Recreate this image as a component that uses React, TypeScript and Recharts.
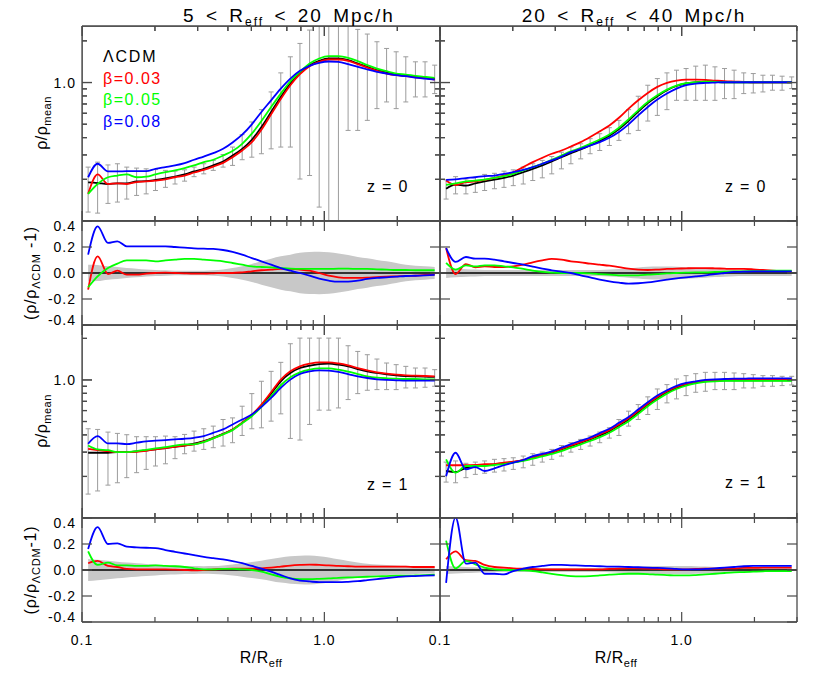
import React from 'react';
import { ComposedChart, Line, Area, XAxis, YAxis, ErrorBar, ReferenceLine } from 'recharts';

// ---------- data ----------
const RADII = [0.106,0.116,0.128,0.140,0.153,0.168,0.184,0.201,0.221,0.242,0.265,0.290,0.318,0.348,0.382,0.418,0.458,0.502,0.550,0.603,0.661,0.724,0.793,0.869,0.952,1.043,1.143,1.253,1.373,1.504,1.648,1.806,1.978,2.168,2.375,2.603,2.852];

const X_TICKS = [0.1,0.2,0.3,0.4,0.5,0.6,0.7,0.8,0.9,1,2,3];
const DENS_TICKS = [0.2,0.3,0.4,0.5,0.6,0.7,0.8,0.9,1,2];
const RATIO_TICKS = [-0.4,-0.2,0,0.2,0.4];

// 5 < Reff < 20, z = 0
const S0_LCDM = [0.190,0.188,0.185,0.187,0.187,0.193,0.194,0.198,0.203,0.209,0.217,0.228,0.238,0.252,0.269,0.297,0.332,0.386,0.477,0.613,0.787,0.983,1.174,1.335,1.435,1.492,1.492,1.451,1.372,1.298,1.228,1.181,1.142,1.123,1.098,1.080,1.062];
const S0_B003 = [0.157,0.217,0.185,0.187,0.185,0.191,0.193,0.196,0.200,0.207,0.213,0.224,0.234,0.247,0.263,0.289,0.323,0.371,0.456,0.589,0.761,0.956,1.149,1.313,1.411,1.467,1.467,1.435,1.357,1.283,1.214,1.161,1.129,1.111,1.092,1.075,1.051];
const S0_B005 = [0.157,0.185,0.207,0.213,0.217,0.207,0.209,0.217,0.225,0.232,0.241,0.252,0.266,0.277,0.297,0.320,0.361,0.427,0.527,0.666,0.832,1.022,1.194,1.372,1.492,1.551,1.551,1.509,1.427,1.335,1.262,1.207,1.161,1.142,1.117,1.098,1.080];
const S0_B008 = [0.207,0.259,0.228,0.228,0.229,0.229,0.229,0.238,0.245,0.252,0.262,0.277,0.292,0.309,0.332,0.369,0.420,0.499,0.613,0.744,0.904,1.068,1.214,1.320,1.388,1.419,1.411,1.357,1.298,1.242,1.194,1.161,1.129,1.111,1.086,1.068,1.051];
const S0_ERR_HI = [0.245,0.266,0.254,0.259,0.245,0.241,0.238,0.235,0.232,0.229,0.234,0.245,0.259,0.274,0.302,0.342,0.420,0.519,0.637,0.855,1.174,1.534,1.916,2.393,4.0,4.0,4.0,2.751,2.420,2.239,1.970,1.762,1.667,1.534,1.411,1.411,1.335];
const S0_ERR_LO = [0.116,0.114,0.134,0.137,0.144,0.153,0.157,0.166,0.175,0.185,0.194,0.209,0.219,0.232,0.245,0.252,0.277,0.289,0.306,0.332,0.342,0.342,0.201,0.213,0.126,0.05,0.05,0.451,0.451,0.533,0.648,0.724,0.648,0.724,0.787,0.787,0.832];

// 20 < Reff < 40, z = 0
const L0_LCDM = [0.171,0.183,0.180,0.187,0.193,0.199,0.205,0.213,0.225,0.238,0.252,0.269,0.289,0.309,0.329,0.352,0.378,0.412,0.461,0.530,0.616,0.710,0.797,0.880,0.944,0.984,1.003,1.014,1.010,1.005,1.005,1.005,1.005,1.005,1.005,1.005,1.005];
const L0_B003 = [0.196,0.182,0.191,0.193,0.198,0.205,0.213,0.225,0.245,0.266,0.286,0.306,0.323,0.345,0.371,0.404,0.444,0.490,0.557,0.648,0.744,0.841,0.930,0.994,1.033,1.051,1.051,1.045,1.033,1.022,1.016,1.011,1.005,1.005,1.005,1.005,1.005];
const L0_B005 = [0.182,0.187,0.193,0.196,0.199,0.205,0.211,0.219,0.232,0.245,0.259,0.277,0.297,0.318,0.338,0.361,0.388,0.422,0.472,0.542,0.630,0.724,0.809,0.889,0.951,0.988,1.005,1.016,1.011,1.005,1.005,1.005,1.005,1.005,1.005,1.005,1.005];
const L0_B008 = [0.198,0.200,0.204,0.207,0.211,0.213,0.219,0.225,0.234,0.245,0.259,0.274,0.292,0.314,0.332,0.351,0.371,0.399,0.439,0.499,0.579,0.666,0.753,0.832,0.904,0.956,0.983,0.994,1.000,1.005,1.005,1.005,1.005,1.005,1.005,1.005,1.005];
const L0_ERR_HI = [0.198,0.209,0.201,0.207,0.217,0.221,0.229,0.234,0.245,0.259,0.274,0.292,0.314,0.342,0.361,0.393,0.427,0.472,0.533,0.637,0.796,0.956,1.068,1.174,1.228,1.262,1.313,1.335,1.298,1.262,1.228,1.174,1.161,1.129,1.129,1.111,1.098];
const L0_ERR_LO = [0.144,0.157,0.157,0.161,0.166,0.171,0.175,0.180,0.185,0.196,0.205,0.219,0.238,0.259,0.281,0.306,0.323,0.351,0.382,0.427,0.451,0.527,0.579,0.637,0.744,0.744,0.744,0.744,0.744,0.765,0.765,0.832,0.841,0.855,0.880,0.880,0.904];

// 5 < Reff < 20, z = 1
const S1_LCDM = [0.297,0.297,0.297,0.300,0.300,0.304,0.309,0.314,0.321,0.328,0.335,0.345,0.361,0.381,0.407,0.438,0.489,0.556,0.652,0.796,0.978,1.123,1.220,1.268,1.304,1.311,1.290,1.254,1.200,1.154,1.123,1.098,1.080,1.068,1.062,1.056,1.051];
const S1_B003 = [0.317,0.310,0.305,0.300,0.300,0.302,0.307,0.314,0.321,0.328,0.335,0.341,0.357,0.379,0.405,0.438,0.489,0.559,0.663,0.814,1.005,1.154,1.254,1.311,1.341,1.341,1.318,1.276,1.220,1.174,1.135,1.110,1.092,1.080,1.074,1.068,1.062];
const S1_B005 = [0.335,0.314,0.310,0.300,0.300,0.305,0.312,0.319,0.326,0.334,0.341,0.341,0.355,0.377,0.403,0.433,0.486,0.546,0.638,0.762,0.915,1.045,1.135,1.187,1.213,1.213,1.187,1.148,1.104,1.062,1.039,1.028,1.022,1.016,1.016,1.011,1.011];
const S1_B008 = [0.345,0.392,0.347,0.347,0.343,0.351,0.359,0.363,0.367,0.371,0.375,0.381,0.392,0.414,0.438,0.476,0.517,0.562,0.638,0.741,0.875,1.005,1.104,1.154,1.174,1.167,1.142,1.104,1.062,1.033,1.011,1.000,0.994,0.988,0.988,0.988,0.988];
const S1_ERR_HI = [0.443,0.438,0.419,0.410,0.401,0.388,0.388,0.388,0.392,0.388,0.403,0.426,0.443,0.463,0.517,0.531,0.645,0.796,0.978,1.154,1.341,1.829,2.009,2.009,2.009,2.009,2.009,1.769,1.609,1.523,1.417,1.326,1.290,1.254,1.220,1.220,1.187];
const S1_ERR_LO = [0.149,0.157,0.173,0.180,0.196,0.213,0.225,0.238,0.247,0.269,0.292,0.305,0.314,0.323,0.332,0.351,0.396,0.443,0.450,0.503,0.568,0.377,0.367,0.476,0.604,0.604,0.627,0.721,0.796,0.842,0.851,0.851,0.851,0.875,0.875,0.885,0.900];

// 20 < Reff < 40, z = 1
const L1_LCDM = [0.219,0.215,0.231,0.238,0.241,0.245,0.249,0.254,0.262,0.273,0.286,0.297,0.314,0.332,0.351,0.371,0.396,0.426,0.468,0.517,0.584,0.663,0.741,0.814,0.875,0.925,0.961,0.978,0.988,0.994,0.994,0.994,0.994,0.994,0.994,0.994,0.994];
const L1_B003 = [0.241,0.241,0.241,0.242,0.245,0.246,0.252,0.256,0.263,0.275,0.287,0.300,0.317,0.335,0.355,0.375,0.403,0.433,0.476,0.528,0.597,0.675,0.754,0.828,0.890,0.935,0.967,0.988,0.994,1.000,1.000,1.005,1.005,1.005,1.005,1.005,1.005];
const L1_B005 = [0.266,0.213,0.238,0.238,0.238,0.242,0.246,0.252,0.259,0.269,0.279,0.291,0.305,0.323,0.341,0.361,0.385,0.414,0.455,0.503,0.568,0.645,0.721,0.796,0.860,0.910,0.946,0.967,0.978,0.983,0.983,0.983,0.983,0.983,0.983,0.983,0.983];
const L1_B008 = [0.201,0.297,0.225,0.234,0.219,0.229,0.241,0.252,0.263,0.281,0.291,0.304,0.323,0.343,0.363,0.383,0.412,0.443,0.489,0.540,0.611,0.690,0.770,0.842,0.905,0.951,0.978,1.000,1.011,1.016,1.022,1.022,1.028,1.028,1.028,1.028,1.028];
const L1_ERR_HI = [0.254,0.259,0.249,0.254,0.259,0.266,0.269,0.273,0.281,0.292,0.300,0.314,0.335,0.351,0.371,0.392,0.419,0.450,0.517,0.594,0.663,0.754,0.860,0.925,1.016,1.074,1.110,1.135,1.135,1.135,1.123,1.110,1.092,1.074,1.074,1.062,1.062];
const L1_ERR_LO = [0.182,0.180,0.196,0.207,0.211,0.215,0.219,0.225,0.231,0.241,0.254,0.266,0.281,0.300,0.314,0.332,0.351,0.379,0.396,0.463,0.517,0.562,0.611,0.682,0.729,0.770,0.814,0.828,0.851,0.851,0.851,0.875,0.875,0.900,0.900,0.910,0.920];

// ratios (rho/rho_LCDM - 1)
const R_S0_B003 = [-0.128,0.128,-0.008,0.018,-0.013,-0.013,-0.005,0,0.003,0,-0.003,-0.005,-0.005,-0.003,0,0,0.005,0.013,0.021,0.026,0.031,0.031,0.026,0.018,0,-0.021,-0.033,-0.038,-0.038,-0.036,-0.031,-0.028,-0.026,-0.023,-0.021,-0.015,-0.013];
const R_S0_B005 = [-0.110,-0.026,0.038,0.072,0.097,0.097,0.097,0.090,0.097,0.103,0.108,0.108,0.103,0.097,0.090,0.077,0.064,0.051,0.046,0.044,0.038,0.033,0.031,0.031,0.031,0.031,0.033,0.033,0.031,0.031,0.028,0.026,0.023,0.023,0.021,0.021,0.021];
const R_S0_B008 = [0.141,0.359,0.231,0.244,0.205,0.205,0.205,0.205,0.205,0.200,0.195,0.190,0.187,0.185,0.177,0.162,0.141,0.115,0.090,0.064,0.038,0.018,0.000,-0.021,-0.044,-0.059,-0.067,-0.067,-0.059,-0.046,-0.038,-0.033,-0.028,-0.023,-0.021,-0.018,-0.015];
const R_S0_SIGMA = [0.064,0.062,0.051,0.046,0.038,0.033,0.026,0.023,0.021,0.018,0.018,0.018,0.018,0.021,0.026,0.038,0.051,0.069,0.090,0.110,0.128,0.141,0.155,0.162,0.163,0.159,0.150,0.138,0.124,0.113,0.100,0.090,0.077,0.064,0.056,0.051,0.046];

const R_L0_B003 = [0.192,-0.008,0.069,0.044,0.051,0.046,0.046,0.051,0.064,0.082,0.097,0.108,0.103,0.090,0.082,0.072,0.064,0.056,0.046,0.033,0.026,0.023,0.026,0.031,0.033,0.036,0.038,0.038,0.036,0.033,0.031,0.031,0.028,0.023,0.018,0.015,0.013];
const R_L0_B005 = [0.077,0.026,0.059,0.051,0.059,0.059,0.051,0.044,0.031,0.018,0.008,0.003,0,0,0,-0.003,-0.008,-0.013,-0.018,-0.018,-0.018,-0.013,-0.008,-0.003,0,0.003,0.005,0.005,0.008,0.010,0.013,0.013,0.015,0.015,0.018,0.018,0.018];
const R_L0_B008 = [0.192,0.085,0.123,0.110,0.110,0.103,0.090,0.077,0.064,0.049,0.033,0.021,0.010,0,-0.018,-0.033,-0.051,-0.064,-0.074,-0.082,-0.079,-0.072,-0.062,-0.051,-0.041,-0.033,-0.026,-0.018,-0.008,0,0.008,0.010,0.013,0.013,0.013,0.013,0.013];
const R_L0_SIGMA = [0.038,0.033,0.028,0.026,0.023,0.023,0.023,0.023,0.023,0.023,0.023,0.023,0.023,0.023,0.023,0.023,0.023,0.026,0.030,0.036,0.042,0.048,0.050,0.050,0.048,0.045,0.041,0.036,0.031,0.028,0.025,0.023,0.023,0.023,0.023,0.023,0.023];

const R_S1_B003 = [0.052,0.070,0.031,0.023,0.008,0.005,0.005,0.005,0.005,0.003,0,-0.003,0,0.005,0.008,0.010,0.010,0.010,0.013,0.018,0.026,0.034,0.039,0.042,0.039,0.036,0.031,0.029,0.026,0.026,0.026,0.026,0.026,0.026,0.023,0.023,0.023];
const R_S1_B005 = [0.143,0.039,0.057,0.036,0.036,0.031,0.031,0.036,0.031,0.029,0.023,0.013,0.005,0.005,0.008,0.008,0.005,0,-0.013,-0.034,-0.052,-0.065,-0.070,-0.070,-0.068,-0.065,-0.060,-0.057,-0.055,-0.052,-0.049,-0.047,-0.044,-0.044,-0.042,-0.039,-0.036];
const R_S1_B008 = [0.161,0.330,0.200,0.205,0.179,0.174,0.171,0.169,0.153,0.140,0.127,0.114,0.101,0.091,0.081,0.068,0.052,0.031,0.010,-0.013,-0.039,-0.065,-0.081,-0.088,-0.094,-0.094,-0.094,-0.091,-0.086,-0.078,-0.070,-0.062,-0.055,-0.049,-0.047,-0.044,-0.042];
const R_S1_SIGMA = [0.084,0.078,0.071,0.064,0.057,0.052,0.047,0.042,0.036,0.034,0.031,0.030,0.029,0.030,0.035,0.043,0.051,0.061,0.071,0.084,0.097,0.105,0.110,0.112,0.106,0.097,0.083,0.070,0.058,0.049,0.043,0.039,0.035,0.032,0.030,0.027,0.026];

const R_L1_B003 = [0.083,0.143,0.075,0.070,0.039,0.023,0.018,0.013,0.010,0.008,0.005,0.005,0.005,0.005,0.005,0.005,0.005,0.008,0.010,0.013,0.013,0.010,0.008,0.005,0.005,0.005,0.008,0.010,0.010,0.013,0.013,0.016,0.016,0.018,0.018,0.018,0.018];
const R_L1_B005 = [0.226,0.013,0.070,0.044,0.018,0.005,0,0,-0.003,-0.008,-0.018,-0.029,-0.039,-0.047,-0.049,-0.047,-0.042,-0.036,-0.031,-0.029,-0.029,-0.031,-0.036,-0.039,-0.042,-0.042,-0.039,-0.034,-0.029,-0.023,-0.018,-0.016,-0.013,-0.010,-0.008,-0.008,-0.008];
const R_L1_B008 = [-0.099,0.403,0.049,0.057,-0.029,-0.029,-0.034,-0.008,0.010,0.023,0.031,0.039,0.039,0.036,0.034,0.031,0.029,0.026,0.026,0.023,0.021,0.018,0.016,0.013,0.008,0.005,0.005,0.008,0.013,0.018,0.023,0.029,0.031,0.031,0.031,0.031,0.031];
const R_L1_SIGMA = [0.030,0.026,0.023,0.021,0.018,0.016,0.016,0.016,0.016,0.016,0.016,0.016,0.016,0.016,0.016,0.016,0.016,0.018,0.021,0.023,0.026,0.029,0.031,0.031,0.031,0.031,0.029,0.026,0.023,0.021,0.018,0.016,0.016,0.016,0.016,0.016,0.016];

// ---------- table builders ----------
const densRows = (lcdm: number[], b3: number[], b5: number[], b8: number[], hi: number[], lo: number[]) =>
  RADII.map((x, i) => ({ x, lcdm: lcdm[i], b3: b3[i], b5: b5[i], b8: b8[i], err: [lcdm[i] - lo[i], hi[i] - lcdm[i]] }));
const ratioRows = (sig: number[], b3: number[], b5: number[], b8: number[]) =>
  RADII.map((x, i) => ({ x, band: [-sig[i], sig[i]], b3: b3[i], b5: b5[i], b8: b8[i] }));

const ROWS_S0 = densRows(S0_LCDM, S0_B003, S0_B005, S0_B008, S0_ERR_HI, S0_ERR_LO);
const ROWS_L0 = densRows(L0_LCDM, L0_B003, L0_B005, L0_B008, L0_ERR_HI, L0_ERR_LO);
const ROWS_S1 = densRows(S1_LCDM, S1_B003, S1_B005, S1_B008, S1_ERR_HI, S1_ERR_LO);
const ROWS_L1 = densRows(L1_LCDM, L1_B003, L1_B005, L1_B008, L1_ERR_HI, L1_ERR_LO);
const RAT_S0 = ratioRows(R_S0_SIGMA, R_S0_B003, R_S0_B005, R_S0_B008);
const RAT_L0 = ratioRows(R_L0_SIGMA, R_L0_B003, R_L0_B005, R_L0_B008);
const RAT_S1 = ratioRows(R_S1_SIGMA, R_S1_B003, R_S1_B005, R_S1_B008);
const RAT_L1 = ratioRows(R_L1_SIGMA, R_L1_B003, R_L1_B005, R_L1_B008);

// ---------- styles ----------
const FONT = '"Liberation Sans", Arial, Helvetica, sans-serif';
const FRAME = '#4a4a4a';
const ERRC = '#9c9c9c';
const RED = '#ff0000';
const GREEN = '#00ff00';
const BLUE = '#0000ff';
const M = 60;

function XTick(props: any) {
  const { x, y, payload, side, labels } = props;
  const v = payload.value;
  const major = Math.abs(v - 0.1) < 1e-6 || Math.abs(v - 1) < 1e-6;
  const L = major ? 10 : 5;
  const d = side === 'bottom' ? -1 : 1;
  return (
    <g>
      <line x1={x} y1={y} x2={x} y2={y + d * L} stroke={FRAME} strokeWidth={1.2} />
      {labels && major ? (
        <text x={x} y={y + 23} textAnchor="middle" fontSize={14} fontFamily={FONT} letterSpacing={1} fill="#000">
          {v < 0.5 ? '0.1' : '1.0'}
        </text>
      ) : null}
    </g>
  );
}

function YTick(props: any) {
  const { x, y, payload, side, kind, labels } = props;
  const v = payload.value;
  const major = kind === 'ratio' || Math.abs(v - 1) < 1e-6;
  const L = major ? 10 : 5;
  const d = side === 'left' ? 1 : -1;
  let label: string | null = null;
  let by = y + 5;
  if (labels && side === 'left') {
    if (kind === 'dens') {
      if (Math.abs(v - 1) < 1e-6) label = '1.0';
    } else {
      label = Math.abs(v) < 1e-9 ? '0.0' : v.toFixed(1);
      if (v > 0.3) by = y + 10;
      if (v < -0.3) by = y;
    }
  }
  return (
    <g>
      <line x1={x} y1={y} x2={x + d * L} y2={y} stroke={FRAME} strokeWidth={1.2} />
      {label ? (
        <text x={x - 6} y={by} textAnchor="end" fontSize={14} fontFamily={FONT} letterSpacing={1} fill="#000">
          {label}
        </text>
      ) : null}
    </g>
  );
}

function Panel(props: any) {
  const { kind, left, top, width, height, yMax, rows, yLabels, xLabels, layer } = props;
  const dens = kind === 'dens';
  const yDomain = dens ? [0.1, yMax] : [-0.4, 0.4];
  const yTicks = dens ? DENS_TICKS : RATIO_TICKS;
  const yScale = dens ? 'log' : 'linear';
  const axisLine = { stroke: FRAME, strokeWidth: 1.3 };
  const lineCommon = { xAxisId: 'b', yAxisId: 'l', dot: false, activeDot: false, isAnimationActive: false, type: 'monotoneX' as const, strokeWidth: 1.8 };

  let series: any[];
  if (layer === 'err') {
    series = [
      <Line key="eb" {...lineCommon} dataKey="lcdm" stroke="none" legendType="none">
        <ErrorBar dataKey="err" width={2.5} stroke={ERRC} strokeWidth={1} direction="y" />
      </Line>,
    ];
  } else if (dens) {
    series = [
      <Line key="lcdm" {...lineCommon} dataKey="lcdm" stroke="#000000" />,
      <Line key="b3" {...lineCommon} dataKey="b3" stroke={RED} />,
      <Line key="b5" {...lineCommon} dataKey="b5" stroke={GREEN} />,
      <Line key="b8" {...lineCommon} dataKey="b8" stroke={BLUE} />,
    ];
  } else {
    series = [
      <Area key="band" xAxisId="b" yAxisId="l" dataKey="band" type="monotoneX" stroke="none" fill="#c8c8c8" fillOpacity={1} isAnimationActive={false} dot={false} activeDot={false} />,
      <ReferenceLine key="zero" xAxisId="b" yAxisId="l" y={0} stroke="#000000" strokeWidth={1.4} />,
      <Line key="b3" {...lineCommon} dataKey="b3" stroke={RED} />,
      <Line key="b5" {...lineCommon} dataKey="b5" stroke={GREEN} />,
      <Line key="b8" {...lineCommon} dataKey="b8" stroke={BLUE} />,
    ];
  }

  return (
    <div style={{ position: 'absolute', left: left - M, top: top - M }}>
      <ComposedChart
        width={width + 2 * M}
        height={height + 2 * M}
        data={rows}
        margin={{ top: M - 1, right: M - 1, bottom: M - 1, left: M - 1 }}
      >
        <XAxis xAxisId="b" orientation="bottom" dataKey="x" type="number" scale="log" domain={[0.1, 3]} allowDataOverflow
          ticks={X_TICKS} interval={0} height={1} tickSize={0} tickMargin={0} tickLine={false} axisLine={axisLine}
          tick={(p: any) => <XTick {...p} side="bottom" labels={xLabels} />} />
        <XAxis xAxisId="t" orientation="top" dataKey="x" type="number" scale="log" domain={[0.1, 3]} allowDataOverflow
          ticks={X_TICKS} interval={0} height={1} tickSize={0} tickMargin={0} tickLine={false} axisLine={axisLine}
          tick={(p: any) => <XTick {...p} side="top" labels={false} />} />
        <YAxis yAxisId="l" orientation="left" type="number" scale={yScale} domain={yDomain} allowDataOverflow
          ticks={yTicks} interval={0} width={1} tickSize={0} tickMargin={0} tickLine={false} axisLine={axisLine}
          tick={(p: any) => <YTick {...p} side="left" kind={kind} labels={yLabels} />} />
        <YAxis yAxisId="r" orientation="right" type="number" scale={yScale} domain={yDomain} allowDataOverflow
          ticks={yTicks} interval={0} width={1} tickSize={0} tickMargin={0} tickLine={false} axisLine={axisLine}
          tick={(p: any) => <YTick {...p} side="right" kind={kind} labels={false} />} />
        {series}
      </ComposedChart>
    </div>
  );
}

// error bars, clipped to the plot box
function ErrLayer(props: any) {
  const { left, top, width, height } = props;
  return (
    <div style={{ position: 'absolute', left, top, width, height, overflow: 'hidden' }}>
      <Panel {...props} left={0} top={0} layer="err" yLabels={false} xLabels={false} />
    </div>
  );
}

function Texts() {
  const t = { fontFamily: FONT, fill: '#000' };
  return (
    <svg width={830} height={692} style={{ position: 'absolute', left: 0, top: 0, pointerEvents: 'none' }}>
      <text x={289} y={22} textAnchor="middle" fontSize={19} letterSpacing={2} wordSpacing={3} {...t}>
        {'5 < R'}<tspan dy={4} fontSize={12}>eff</tspan><tspan dy={-4}>{' < 20 Mpc/h'}</tspan>
      </text>
      <text x={634} y={22} textAnchor="middle" fontSize={19} letterSpacing={2} wordSpacing={3} {...t}>
        {'20 < R'}<tspan dy={4} fontSize={12}>eff</tspan><tspan dy={-4}>{' < 40 Mpc/h'}</tspan>
      </text>

      <text x={103} y={62} fontSize={16} letterSpacing={1.8} fontFamily={FONT} fill="#000000">ΛCDM</text>
      <text x={103} y={83.5} fontSize={16} letterSpacing={1.5} fontFamily={FONT} fill={RED}>β=0.03</text>
      <text x={103} y={105} fontSize={16} letterSpacing={1.5} fontFamily={FONT} fill={GREEN}>β=0.05</text>
      <text x={103} y={126.5} fontSize={16} letterSpacing={1.5} fontFamily={FONT} fill={BLUE}>β=0.08</text>

      <text x={367} y={192} fontSize={16} letterSpacing={1.3} {...t}>z = 0</text>
      <text x={725} y={192} fontSize={16} letterSpacing={1.3} {...t}>z = 0</text>
      <text x={367} y={490} fontSize={16} letterSpacing={1.3} {...t}>z = 1</text>
      <text x={725} y={488} fontSize={16} letterSpacing={1.3} {...t}>z = 1</text>

      <text transform="translate(47,123) rotate(-90)" textAnchor="middle" fontSize={16} letterSpacing={0.5} {...t}>
        ρ/ρ<tspan dy={4} fontSize={11}>mean</tspan>
      </text>
      <text transform="translate(47,421) rotate(-90)" textAnchor="middle" fontSize={16} letterSpacing={0.5} {...t}>
        ρ/ρ<tspan dy={4} fontSize={11}>mean</tspan>
      </text>
      <text transform="translate(36,273) rotate(-90)" textAnchor="middle" fontSize={16} letterSpacing={0.8} {...t}>
        (ρ/ρ<tspan dy={4} fontSize={11}>ΛCDM</tspan><tspan dy={-4}> -1)</tspan>
      </text>
      <text transform="translate(36,570) rotate(-90)" textAnchor="middle" fontSize={16} letterSpacing={0.8} {...t}>
        (ρ/ρ<tspan dy={4} fontSize={11}>ΛCDM</tspan><tspan dy={-4}>-1)</tspan>
      </text>

      <text x={261} y={663} textAnchor="middle" fontSize={16} letterSpacing={0.5} {...t}>
        R/R<tspan dy={4} fontSize={11}>eff</tspan>
      </text>
      <text x={616} y={663} textAnchor="middle" fontSize={16} letterSpacing={0.5} {...t}>
        R/R<tspan dy={4} fontSize={11}>eff</tspan>
      </text>
    </svg>
  );
}

export default function App() {
  return (
    <div style={{ position: 'absolute', left: 0, top: 0, width: 830, height: 692, background: '#ffffff', fontFamily: FONT }}>
      <ErrLayer kind="dens" left={82} top={26} width={358} height={195} yMax={2.56} rows={ROWS_S0} />
      <ErrLayer kind="dens" left={82} top={325} width={358} height={193} yMax={2.5} rows={ROWS_S1} />
      <ErrLayer kind="dens" left={440} top={26} width={357} height={195} yMax={2.56} rows={ROWS_L0} />
      <ErrLayer kind="dens" left={440} top={325} width={357} height={193} yMax={2.5} rows={ROWS_L1} />

      <Panel kind="dens" left={82} top={26} width={358} height={195} yMax={2.56} rows={ROWS_S0} yLabels xLabels={false} />
      <Panel kind="ratio" left={82} top={221} width={358} height={104} rows={RAT_S0} yLabels xLabels={false} />
      <Panel kind="dens" left={82} top={325} width={358} height={193} yMax={2.5} rows={ROWS_S1} yLabels xLabels={false} />
      <Panel kind="ratio" left={82} top={518} width={358} height={104} rows={RAT_S1} yLabels xLabels />

      <Panel kind="dens" left={440} top={26} width={357} height={195} yMax={2.56} rows={ROWS_L0} yLabels={false} xLabels={false} />
      <Panel kind="ratio" left={440} top={221} width={357} height={104} rows={RAT_L0} yLabels={false} xLabels={false} />
      <Panel kind="dens" left={440} top={325} width={357} height={193} yMax={2.5} rows={ROWS_L1} yLabels={false} xLabels={false} />
      <Panel kind="ratio" left={440} top={518} width={357} height={104} rows={RAT_L1} yLabels={false} xLabels />

      <Texts />
    </div>
  );
}
